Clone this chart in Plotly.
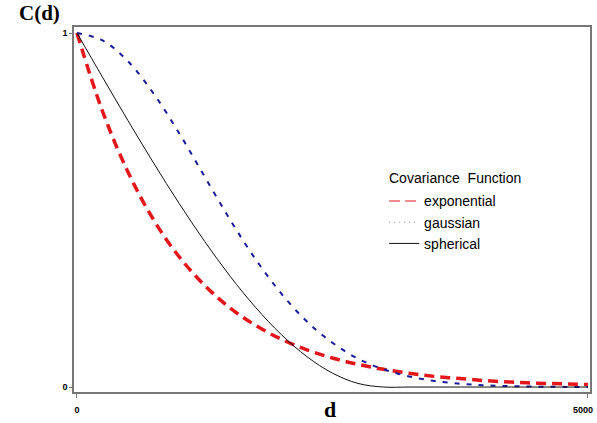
import plotly.graph_objects as go

# distances
d = [0, 250, 500, 750, 1000, 1250, 1500, 1750, 2000, 2250, 2500,
     2750, 3000, 3250, 3500, 3750, 4000, 4250, 4500, 4750, 5000]

exponential = [1.0, 0.779, 0.607, 0.472, 0.368, 0.287, 0.223, 0.174, 0.135, 0.105, 0.082,
               0.064, 0.050, 0.039, 0.030, 0.024, 0.018, 0.014, 0.011, 0.009, 0.007]

gaussian = [1.0, 0.979, 0.920, 0.829, 0.717, 0.594, 0.472, 0.360, 0.264, 0.185, 0.125,
            0.080, 0.050, 0.030, 0.017, 0.0092, 0.0048, 0.0024, 0.0012, 0.0005, 0.0002]

spherical = [1.0, 0.8753, 0.7523, 0.6328, 0.5185, 0.4112, 0.3125, 0.2242, 0.1481, 0.0859, 0.0394,
             0.0102, 0.0, 0.0, 0.0, 0.0, 0.0, 0.0, 0.0, 0.0, 0.0]

series_names = ["exponential", "gaussian", "spherical"]

x_ticks = [0, 5000]
x_ticklabels = ["<b>0</b>", "<b>5000</b>&nbsp;&nbsp;&nbsp;&nbsp;"]
y_ticks = [0, 1]
y_ticklabels = ["<b>0</b>", "<b>1</b>"]

fig = go.Figure()
# data curves
fig.add_trace(go.Scatter(x=d, y=exponential, mode="lines", name=series_names[0], showlegend=False,
                         line=dict(color="#e3161c", width=3.5, dash="10px,6px", shape="spline")))
fig.add_trace(go.Scatter(x=d, y=gaussian, mode="lines", name=series_names[1], showlegend=False,
                         line=dict(color="#1c1c9a", width=2, dash="5px,7px", shape="spline")))
fig.add_trace(go.Scatter(x=d, y=spherical, mode="lines", name=series_names[2], showlegend=False,
                         line=dict(color="#111111", width=1, shape="spline")))
# legend entries (thin samples as in the reference legend)
fig.add_trace(go.Scatter(x=[None], y=[None], mode="lines", name=series_names[0],
                         line=dict(color="#e3161c", width=1, dash="11px,5px")))
fig.add_trace(go.Scatter(x=[None], y=[None], mode="lines", name=series_names[1],
                         line=dict(color="#8888aa", width=1, dash="1px,4px")))
fig.add_trace(go.Scatter(x=[None], y=[None], mode="lines", name=series_names[2],
                         line=dict(color="#111111", width=1)))

axis_font = dict(family="Liberation Sans, Arial", size=9, color="black")

fig.update_layout(
    width=597, height=423,
    margin=dict(l=74, r=7, t=27, b=31),
    plot_bgcolor="white", paper_bgcolor="white",
    showlegend=True,
    legend=dict(x=0.601, y=0.566, xanchor="left", yanchor="top",
                font=dict(family="Liberation Sans, Arial", size=14, color="black"),
                bgcolor="rgba(0,0,0,0)", itemwidth=30, tracegroupgap=0),
    xaxis=dict(range=[-29, 5020], tickvals=x_ticks, ticktext=x_ticklabels, automargin=False,
               ticklabeloverflow="allow",
               showgrid=False, zeroline=False, showline=True, mirror=True,
               linecolor="#777777", linewidth=1.5, ticks="outside", ticklen=4,
               tickcolor="#777777", tickfont=axis_font, ticklabelstandoff=4),
    yaxis=dict(range=[-0.014, 1.017], tickvals=y_ticks, ticktext=y_ticklabels, automargin=False,
               ticklabeloverflow="allow",
               showgrid=False, zeroline=False, showline=True, mirror=True,
               linecolor="#777777", linewidth=1.5, ticks="outside", ticklen=3,
               tickcolor="#777777", tickfont=axis_font),
    annotations=[
        dict(text="<b>C(d)</b>", xref="paper", yref="paper", x=-0.11, y=1.0,
             xanchor="left", yanchor="bottom", showarrow=False,
             font=dict(family="Liberation Serif, Times New Roman", size=21, color="black")),
        dict(text="<b>d</b>", xref="paper", yref="paper", x=0.497, y=-0.049,
             xanchor="center", yanchor="middle", showarrow=False,
             font=dict(family="Liberation Serif, Times New Roman", size=22, color="black")),
        dict(text="Covariance  Function", xref="paper", yref="paper", x=0.607, y=0.586,
             xanchor="left", yanchor="middle", showarrow=False,
             font=dict(family="Liberation Sans, Arial", size=14, color="black")),
    ],
)

fig.write_html("out.html")
